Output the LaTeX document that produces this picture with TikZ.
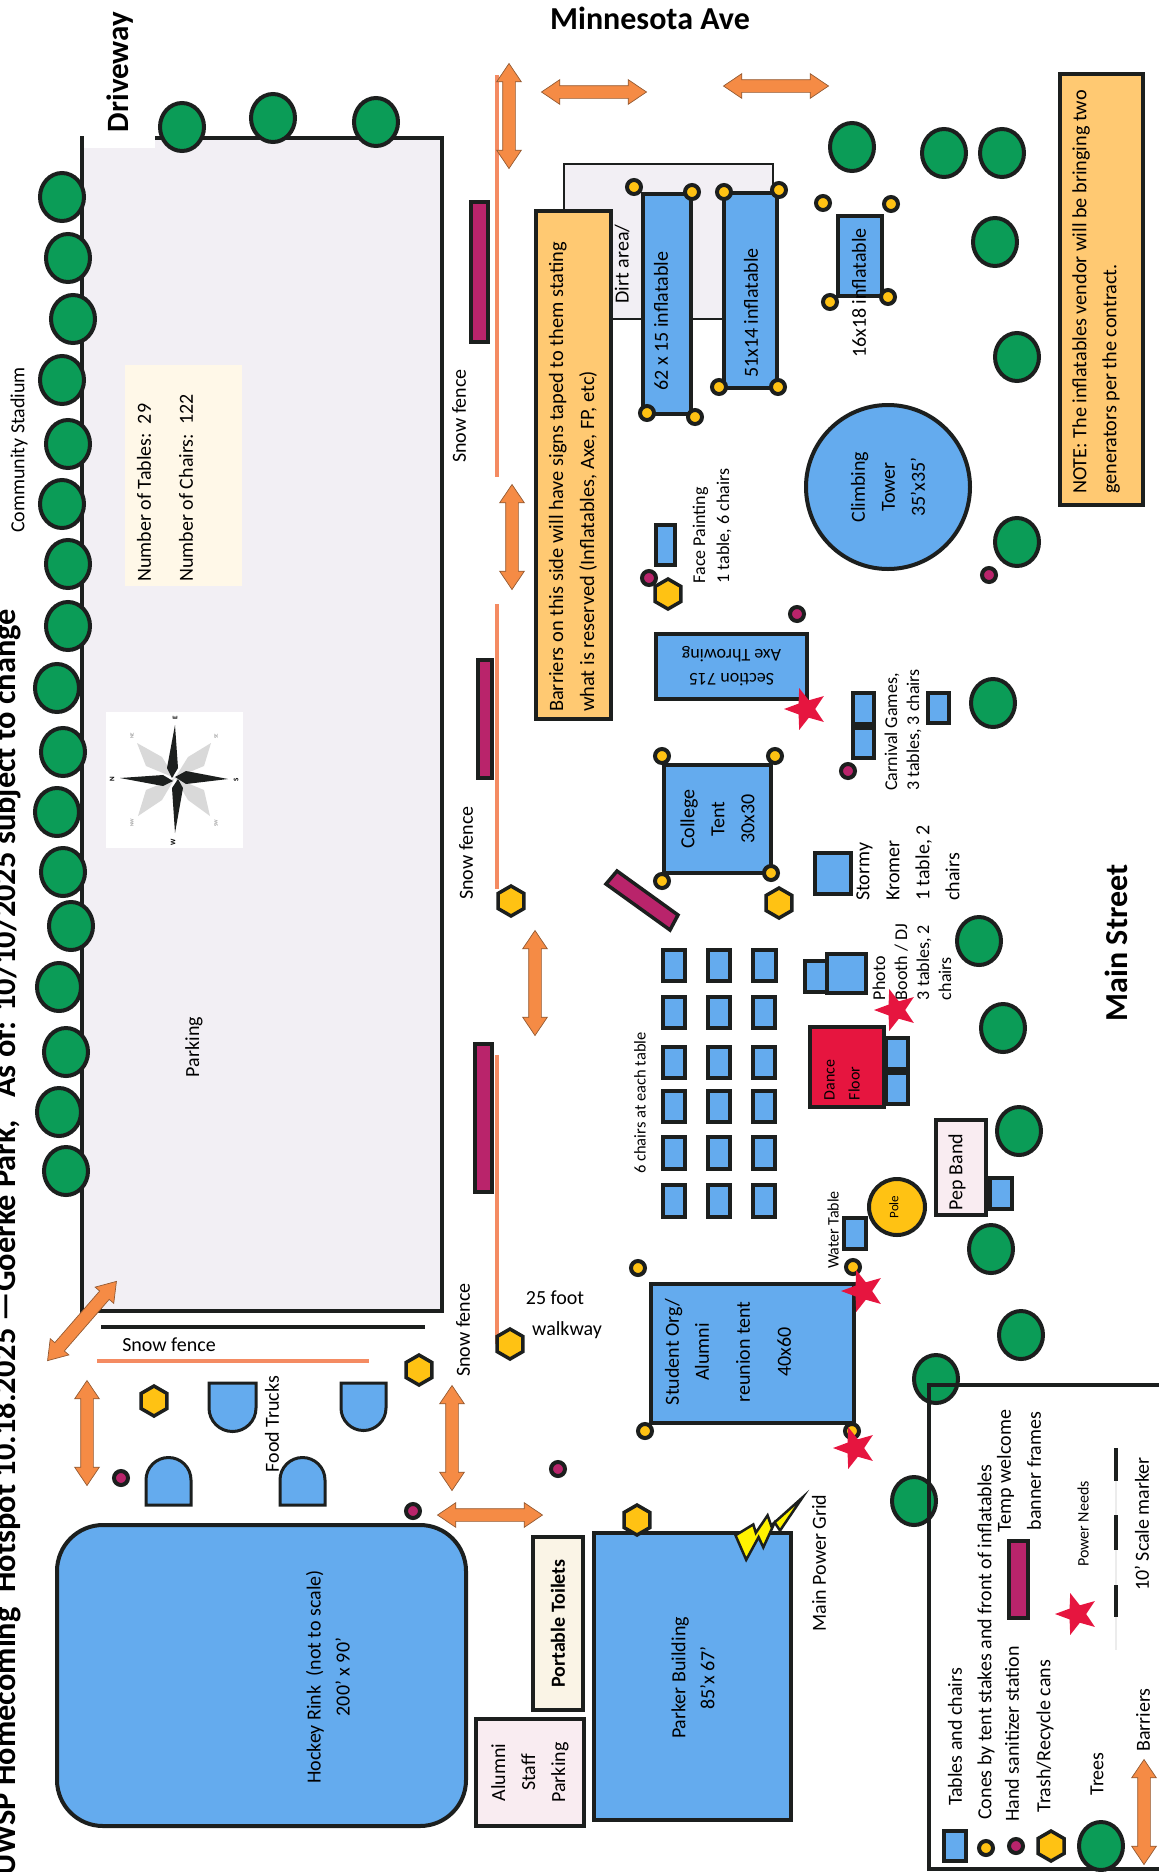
\documentclass[tikz,border=0pt]{standalone}
\usepackage{fontspec}
\setmainfont{Carlito}
\usetikzlibrary{shapes.geometric,shapes.arrows}

\definecolor{inkline}{HTML}{1C1F1E}
\definecolor{tentblue}{HTML}{64ABEE}
\definecolor{treegreen}{HTML}{0B9C57}
\definecolor{conegold}{HTML}{FFC213}
\definecolor{bannerred}{HTML}{B9246B}
\definecolor{barrierorange}{HTML}{F58B45}
\definecolor{fenceorange}{HTML}{F48B62}
\definecolor{starred}{HTML}{E6153F}
\definecolor{lotgray}{HTML}{F2EFF4}
\definecolor{notegold}{HTML}{FFC972}
\definecolor{palepink}{HTML}{F9ECF1}
\definecolor{paleivory}{HTML}{FAF4E6}
\definecolor{palecream}{HTML}{FFF8E8}

\tikzset{
  lbl/.style={rotate=90,inner sep=0pt,align=center,font=\fontsize{20}{30}\selectfont},
  lblsmall/.style={lbl,font=\fontsize{18}{22}\selectfont},
  lblbold/.style={inner sep=0pt,font=\bfseries\fontsize{32}{36}\selectfont},
  tent/.style={draw=inkline,line width=4pt,fill=tentblue},
  tbl/.style={draw=inkline,line width=3.5pt,fill=tentblue},
  tree/.style={draw=inkline,line width=4pt,fill=treegreen,x radius=22,y radius=24},
  cone/.style={draw=inkline,line width=4pt,fill=conegold,radius=7},
  sanitizer/.style={draw=inkline,line width=4pt,fill=bannerred,radius=7},
  trash/.style={regular polygon,regular polygon sides=6,shape border rotate=30,draw=inkline,line width=3.5pt,fill=conegold,inner sep=0pt,minimum size=30pt},
  banner/.style={draw=inkline,line width=3.5pt,fill=bannerred},
  fence/.style={fenceorange,line width=3.5pt},
  barrier/.style={double arrow,draw=inkline!45!barrierorange,line width=.7pt,fill=barrierorange,inner xsep=0pt,inner ysep=6pt,minimum height=105pt,double arrow head extend=6pt,double arrow tip angle=68},
  power/.style={star,star points=5,star point ratio=2.4,fill=starred,inner sep=0pt,minimum size=44pt,shape border rotate=90},
  compassmain/.style={rotate=90,inner sep=0pt,font=\bfseries\fontsize{7}{8}\selectfont},
  compassminor/.style={rotate=90,inner sep=0pt,gray,font=\fontsize{5}{6}\selectfont},
}

\begin{document}
\begin{tikzpicture}[x=1pt,y=-1pt]
      \useasboundingbox (0,0) rectangle (1159,1872);

      % title and streets
      \node (title) [rotate=90,inner sep=0pt,anchor=base east,font=\bfseries\fontsize{32.4}{36}\selectfont] at (15,609) {UWSP Homecoming\ \ Hotspot 10.18.2025 —Goerke Park,\ \ \ As of: 10/10/2025 subject to change};
      \node (driveway) [lblbold,rotate=90,font=\bfseries\fontsize{31}{36}\selectfont] at (120,72) {Driveway};
      \node (minnesota) [lblbold] at (650,18) {Minnesota Ave};
      \node (mainstreet) [lblbold,rotate=90] at (1116,943) {Main Street};
      \node (stadium) [lbl] at (19,450) {Community Stadium};

      % parking lot
      \fill [lotgray] (84,148) -- (155,148) -- (155,138) -- (442,138) -- (442,1311) -- (84,1311) -- cycle;
      \draw [inkline,line width=4pt] (155,138) -- (442,138) -- (442,1311) -- (82,1311) -- (82,136);
      \fill [palecream] (125,365) rectangle (242,586);
      \node (counts) [lbl,align=left,font=\fontsize{20}{42}\selectfont] at (165,488) {Number of Tables:\ \ 29\\Number of Chairs:\ \ 122};
      \node (parking) [lbl] at (194,1047) {Parking};

      % compass
      \fill [white] (106,712) rectangle (243,848);
      \fill [gray!30] (175,778) -- (146,766) -- (137,743) -- (162,757) -- cycle;
      \fill [gray!30] (175,778) -- (188,757) -- (211,743) -- (204,766) -- cycle;
      \fill [gray!30] (175,778) -- (204,790) -- (210,816) -- (188,800) -- cycle;
      \fill [gray!30] (175,778) -- (162,800) -- (138,816) -- (146,790) -- cycle;
      \fill [inkline] (175,725) -- (167,768) -- (172,778) -- (178,768) -- cycle;
      \fill [inkline] (228,779) -- (186,771) -- (175,777) -- (186,784) -- cycle;
      \fill [inkline] (175,833) -- (183,788) -- (178,779) -- (172,788) -- cycle;
      \fill [inkline] (120,778) -- (163,775) -- (173,781) -- (163,786) -- cycle;
      \node (compassE) [compassmain] at (175,718) {E};
      \node (compassS) [compassmain] at (236,780) {S};
      \node (compassW) [compassmain] at (173,842) {W};
      \node (compassN) [compassmain] at (112,779) {N};
      \node (compassNE) [compassminor] at (132,736) {NE};
      \node (compassSE) [compassminor] at (216,736) {SE};
      \node (compassSW) [compassminor] at (216,823) {SW};
      \node (compassNW) [compassminor] at (132,823) {NW};

      % trees along the lot
      \draw [tree] (182,127) ellipse [];
      \draw [tree] (273,118) ellipse [];
      \draw [tree] (376,122) ellipse [];
      \draw [tree] (62,197) ellipse [];
      \draw [tree] (68,258) ellipse [];
      \draw [tree] (73,319) ellipse [];
      \draw [tree] (62,380) ellipse [];
      \draw [tree] (68,444) ellipse [];
      \draw [tree] (62,504) ellipse [];
      \draw [tree] (68,564) ellipse [];
      \draw [tree] (68,626) ellipse [];
      \draw [tree] (57,688) ellipse [];
      \draw [tree] (63,752) ellipse [];
      \draw [tree] (57,812) ellipse [];
      \draw [tree] (63,872) ellipse [];
      \draw [tree] (71,926) ellipse [];
      \draw [tree] (59,987) ellipse [];
      \draw [tree] (66,1052) ellipse [];
      \draw [tree] (59,1112) ellipse [];
      \draw [tree] (66,1171) ellipse [];

      % trees on the street side
      \draw [tree] (852,147) ellipse [];
      \draw [tree] (944,153) ellipse [];
      \draw [tree] (1002,153) ellipse [];
      \draw [tree] (995,242) ellipse [];
      \draw [tree] (1017,357) ellipse [];
      \draw [tree] (1017,542) ellipse [];
      \draw [tree] (993,703) ellipse [];
      \draw [tree] (979,941) ellipse [];
      \draw [tree] (1003,1028) ellipse [];
      \draw [tree] (1019,1131) ellipse [];
      \draw [tree] (991,1249) ellipse [];
      \draw [tree] (1021,1335) ellipse [];
      \draw [tree] (936,1379) ellipse [];
      \draw [tree] (914,1501) ellipse [];

      % snow fences and banner frames
      \draw [fence] (497,75) -- (497,477);
      \draw [fence] (497,604) -- (497,889);
      \draw [fence] (497,1055) -- (497,1344);
      \draw [fence] (97,1361) -- (369,1361);
      \draw [inkline,line width=4pt] (101,1327) -- (425,1327);
      \node (fenceA) [lbl] at (459,416) {Snow fence};
      \node (fenceB) [lbl] at (466,853) {Snow fence};
      \node (fenceC) [lbl] at (463,1330) {Snow fence};
      \node (fenceD) [inner sep=0pt,font=\fontsize{20}{24}\selectfont] at (169,1345) {Snow fence};
      \draw [banner] (471,202) rectangle (488,342);
      \draw [banner] (478,660) rectangle (492,778);
      \draw [banner] (475,1044) rectangle (492,1192);
      \draw [banner] (617,871) -- (606,884) -- (670,930) -- (678,915) -- cycle;

      % barriers
      \node (gateA) [barrier,rotate=90] at (509,116) {};
      \node (gateB) [barrier] at (594,92) {};
      \node (gateC) [barrier] at (776,86) {};
      \node (gateD) [barrier,rotate=90] at (512,537) {};
      \node (gateE) [barrier,rotate=90] at (535,983) {};
      \node (gateF) [barrier,rotate=90] at (87,1433) {};
      \node (gateG) [barrier,rotate=90] at (452,1438) {};
      \node (gateH) [barrier] at (490,1515) {};
      \node (gateI) [barrier,rotate=49] at (82,1321) {};

      % notes
      \draw [draw=inkline,line width=2pt,fill=lotgray] (564,164) rectangle (773,319);
      \draw [tent,fill=notegold] (536,211) rectangle (611,719);
      \node (barriernote) [lbl,align=left,font=\fontsize{20.4}{31}\selectfont] at (573,477) {Barriers on this side will have signs taped to them stating\\what is reserved (Inflatables, Axe, FP, etc)};
      \node (dirt) [lbl] at (622,264) {Dirt area/};
      \draw [tent,fill=notegold] (1060,74) rectangle (1143,505);
      \node (vendornote) [lbl,align=left,font=\fontsize{20.2}{30}\selectfont] at (1096,292) {NOTE: The inflatables vendor will be bringing two\\generators per the contract.};

      % inflatables
      \draw [tent] (643,194) rectangle (691,414);
      \node (inflA) [lbl] at (661,321) {62 x 15 inflatable};
      \draw [tent] (724,193) rectangle (777,388);
      \node (inflB) [lbl] at (751,313) {51x14 inflatable};
      \draw [tent] (838,216) rectangle (882,296);
      \draw [cone] (634,187) circle [];
      \draw [cone] (692,192) circle [];
      \draw [cone] (647,413) circle [];
      \draw [cone] (695,417) circle [];
      \draw [cone] (724,192) circle [];
      \draw [cone] (779,190) circle [];
      \draw [cone] (719,387) circle [];
      \draw [cone] (778,387) circle [];
      \draw [cone] (823,203) circle [];
      \draw [cone] (891,204) circle [];
      \draw [cone] (830,302) circle [];
      \draw [cone] (888,297) circle [];
      \node (inflC) [lbl] at (859,293) {16x18 inflatable};
      \draw [tent] (888,487) circle [radius=82];
      \node (tower) [lbl] at (888,487) {Climbing\\Tower\\35’x35’};

      % face painting, axe throwing, carnival games
      \draw [tbl] (656,525) rectangle (675,565);
      \node (face) [lblsmall,align=left,font=\fontsize{18}{24}\selectfont] at (712,526) {Face Painting\\1 table, 6 chairs};
      \draw [sanitizer] (649,578) circle [];
      \node (trashA) [trash] at (668,594) {};
      \draw [sanitizer] (797,614) circle [];
      \draw [sanitizer] (989,575) circle [];
      \draw [tent] (656,634) rectangle (807,699) node (axe) [pos=.5,rotate=180,inner sep=0pt,align=center,font=\fontsize{18}{24}\selectfont] {Section 715\\Axe Throwing};
      \node (starA) [power] at (806,709) {};
      \draw [tbl] (853,693) rectangle (874,724);
      \draw [tbl] (853,728) rectangle (874,758);
      \draw [tbl] (928,693) rectangle (949,723);
      \draw [sanitizer] (848,771) circle [];
      \node (carnival) [lblsmall,align=left] at (903,730) {Carnival Games,\\3 tables, 3 chairs};

      % college tent and stormy kromer
      \draw [tent] (664,765) rectangle (771,873) node (college) [pos=.5,lbl] {College\\Tent\\30x30};
      \draw [cone] (662,756) circle [];
      \draw [cone] (775,756) circle [];
      \draw [cone] (662,881) circle [];
      \draw [cone] (771,873) circle [];
      \node (trashB) [trash] at (511,901) {};
      \node (trashC) [trash] at (779,903) {};
      \draw [tbl] (815,853) rectangle (851,894);
      \node (stormy) [lbl,align=left] at (908,863) {Stormy\\Kromer\\1 table, 2\\chairs};

      % tables in the reunion area
      \draw [tbl] (663,950) rectangle (685,981);
      \draw [tbl] (708,950) rectangle (730,981);
      \draw [tbl] (753,950) rectangle (776,981);
      \draw [tbl] (663,997) rectangle (685,1028);
      \draw [tbl] (708,997) rectangle (730,1028);
      \draw [tbl] (753,997) rectangle (775,1028);
      \draw [tbl] (663,1047) rectangle (685,1078);
      \draw [tbl] (708,1047) rectangle (730,1078);
      \draw [tbl] (753,1047) rectangle (775,1078);
      \draw [tbl] (663,1091) rectangle (685,1122);
      \draw [tbl] (708,1091) rectangle (730,1122);
      \draw [tbl] (753,1091) rectangle (775,1122);
      \draw [tbl] (663,1137) rectangle (685,1169);
      \draw [tbl] (708,1137) rectangle (730,1169);
      \draw [tbl] (753,1137) rectangle (775,1169);
      \draw [tbl] (663,1185) rectangle (685,1217);
      \draw [tbl] (708,1185) rectangle (730,1217);
      \draw [tbl] (753,1185) rectangle (775,1217);
      \node (sixchairs) [lbl,font=\fontsize{16.5}{20}\selectfont] at (640,1103) {6 chairs at each table};

      % photo booth, dance floor, pep band
      \draw [tbl] (827,954) rectangle (866,993);
      \draw [tbl] (805,961) rectangle (827,992);
      \node (photo) [lblsmall,align=left] at (912,962) {Photo\\Booth / DJ\\3 tables, 2\\chairs};
      \draw [tent,fill=starred] (810,1027) rectangle (884,1107);
      \node (dance) [lbl,align=left,font=\fontsize{16}{25}\selectfont] at (842,1080) {Dance\\Floor};
      \draw [tbl] (886,1038) rectangle (908,1069);
      \draw [tbl] (886,1073) rectangle (908,1104);
      \node (starB) [power] at (896,1010) {};
      \draw [tent,fill=palepink] (936,1120) rectangle (986,1215);
      \node (pep) [lbl] at (957,1172) {Pep Band};
      \draw [tbl] (990,1178) rectangle (1012,1209);
      \draw [tent,fill=conegold] (897,1207) circle [radius=28];
      \node (pole) [lbl,font=\fontsize{13}{15}\selectfont] at (894,1207) {Pole};
      \draw [tbl] (844,1218) rectangle (866,1249);
      \node (water) [lbl,font=\fontsize{16}{20}\selectfont] at (833,1230) {Water Table};

      % student tent and walkway
      \draw [tent] (651,1284) rectangle (854,1423);
      \node (student) [lbl] at (728,1352) {Student Org/\\Alumni\\[11pt]reunion tent\\[11pt]40x60};
      \draw [cone] (638,1268) circle [];
      \draw [cone] (853,1267) circle [];
      \draw [cone] (645,1431) circle [];
      \draw [cone] (852,1431) circle [];
      \node (starC) [power] at (863,1291) {};
      \node (starD) [power] at (855,1448) {};
      \node (walkA) [inner sep=0pt,font=\fontsize{20}{24}\selectfont] at (555,1298) {25 foot};
      \node (walkB) [inner sep=0pt,font=\fontsize{20}{24}\selectfont] at (567,1330) {walkway};
      \node (trashD) [trash] at (510,1344) {};

      % food trucks
      \draw [tent,line width=3pt] (209,1383) -- (256,1383) -- (256,1408) arc [start angle=0,end angle=180,radius=23.5] -- cycle;
      \draw [tent,line width=3pt] (341,1383) -- (386,1383) -- (386,1408) arc [start angle=0,end angle=180,radius=22.5] -- cycle;
      \draw [tent,line width=3pt] (146,1505) -- (191,1505) -- (191,1480) arc [start angle=0,end angle=-180,radius=22.5] -- cycle;
      \draw [tent,line width=3pt] (280,1505) -- (325,1505) -- (325,1480) arc [start angle=0,end angle=-180,radius=22.5] -- cycle;
      \node (trucks) [lbl] at (272,1424) {Food Trucks};
      \node (trashE) [trash] at (154,1401) {};
      \node (trashF) [trash] at (419,1370) {};
      \draw [sanitizer] (121,1478) circle [];
      \draw [sanitizer] (413,1511) circle [];
      \draw [sanitizer] (558,1469) circle [];

      % rink and buildings
      \draw [tent,rounded corners=46pt] (57,1525) rectangle (466,1826);
      \node (rink) [lbl,font=\fontsize{20}{29}\selectfont] at (328,1677) {Hockey Rink\ \ (not to scale)\\200’ x 90’};
      \draw [tent,fill=paleivory] (533,1537) rectangle (583,1710) node (toilets) [pos=.5,lbl,font=\bfseries\fontsize{20}{24}\selectfont] {Portable Toilets};
      \draw [tent,fill=palepink] (476,1719) rectangle (584,1826) node (alumni) [pos=.5,lbl] {Alumni\\Staff\\Parking};
      \draw [tent] (594,1533) rectangle (791,1820);
      \node (parker) [lbl,font=\fontsize{20}{29}\selectfont] at (693,1678) {Parker Building\\85’x 67’};
      \node (trashG) [trash] at (637,1520) {};
      \draw [inkline,line width=2.5pt,fill=yellow] (735.5,1535.3) -- (753.3,1524.4) -- (755.8,1532.8) -- (767.6,1515.3) -- (771.1,1525.5) -- (802.5,1497.4) -- (780,1530.6) -- (774.7,1522.5) -- (763.3,1547.4) -- (758.6,1537.1) -- (746.2,1559.8) -- cycle;
      \node (grid) [lbl] at (819,1563) {Main Power Grid};

      % legend
      \draw [inkline,line width=4pt] (1159,1385) -- (929,1385) -- (929,1869) -- (1159,1869);
      \draw [tbl] (944,1831) rectangle (966,1861);
      \node (lgTables) [lbl] at (955,1737) {Tables and chairs};
      \draw [cone] (986,1848) circle [];
      \node (lgCones) [lbl] at (986,1642) {Cones by tent stakes and front of inflatables};
      \draw [sanitizer] (1016,1846) circle [];
      \node (lgHand) [lbl] at (1012,1734) {Hand sanitizer station};
      \node (trashH) [trash] at (1051,1846) {};
      \node (lgTrash) [lbl] at (1045,1736) {Trash/Recycle cans};
      \draw [banner] (1009,1541) rectangle (1028,1618);
      \node (lgBanner) [lbl] at (1019,1471) {Temp welcome\\banner frames};
      \node (lgStar) [power] at (1077,1614) {};
      \node (lgPower) [lbl,font=\fontsize{16}{20}\selectfont] at (1083,1524) {Power Needs};
      \draw [tree] (1101,1846) ellipse [];
      \node (lgTrees) [lbl] at (1097,1774) {Trees};
      \draw [gray!15,line width=2pt] (1116,1448) -- (1116,1650);
      \draw [inkline,line width=3.5pt] (1116,1448) -- (1116,1481);
      \draw [inkline,line width=3.5pt] (1116,1515) -- (1116,1550);
      \draw [inkline,line width=3.5pt] (1116,1585) -- (1116,1617);
      \node (lgScale) [lbl] at (1142,1524) {10’ Scale marker};
      \node (lgBarrier) [barrier,rotate=90] at (1144,1812) {};
      \node (lgBarriers) [lbl] at (1143,1720) {Barriers};
\end{tikzpicture}
\end{document}
